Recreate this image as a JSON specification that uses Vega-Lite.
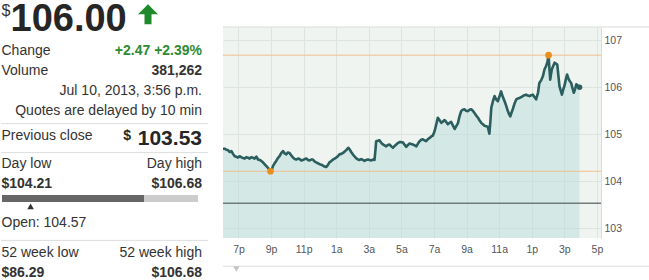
{
  "$schema": "https://vega.github.io/schema/vega-lite/v6.json",
  "padding": 0,
  "spacing": 13,
  "config": {"font": "Liberation Sans", "view": {"stroke": null}, "concat": {"spacing": 13}},
  "datasets": {
    "prices": [
      {"time":"2013-07-09T18:03","price":104.69},{"time":"2013-07-09T18:09","price":104.69},{"time":"2013-07-09T18:15","price":104.67},{"time":"2013-07-09T18:21","price":104.66},{"time":"2013-07-09T18:28","price":104.62},{"time":"2013-07-09T18:34","price":104.64},{"time":"2013-07-09T18:40","price":104.58},{"time":"2013-07-09T18:46","price":104.53},{"time":"2013-07-09T18:52","price":104.52},{"time":"2013-07-09T18:58","price":104.50},
      {"time":"2013-07-09T19:04","price":104.53},{"time":"2013-07-09T19:10","price":104.51},{"time":"2013-07-09T19:17","price":104.49},{"time":"2013-07-09T19:23","price":104.48},{"time":"2013-07-09T19:29","price":104.51},{"time":"2013-07-09T19:35","price":104.50},{"time":"2013-07-09T19:41","price":104.48},{"time":"2013-07-09T19:47","price":104.51},{"time":"2013-07-09T19:53","price":104.50},{"time":"2013-07-09T19:59","price":104.48},
      {"time":"2013-07-09T20:06","price":104.52},{"time":"2013-07-09T20:12","price":104.46},{"time":"2013-07-09T20:18","price":104.45},{"time":"2013-07-09T20:24","price":104.43},{"time":"2013-07-09T20:30","price":104.40},{"time":"2013-07-09T20:36","price":104.36},{"time":"2013-07-09T20:43","price":104.32},{"time":"2013-07-09T20:49","price":104.28},{"time":"2013-07-09T20:54","price":104.24},{"time":"2013-07-09T20:58","price":104.21},
      {"time":"2013-07-09T21:03","price":104.25},{"time":"2013-07-09T21:07","price":104.32},{"time":"2013-07-09T21:13","price":104.38},{"time":"2013-07-09T21:19","price":104.43},{"time":"2013-07-09T21:25","price":104.49},{"time":"2013-07-09T21:31","price":104.53},{"time":"2013-07-09T21:38","price":104.60},{"time":"2013-07-09T21:44","price":104.64},{"time":"2013-07-09T21:50","price":104.59},{"time":"2013-07-09T21:56","price":104.57},
      {"time":"2013-07-09T22:02","price":104.61},{"time":"2013-07-09T22:08","price":104.60},{"time":"2013-07-09T22:14","price":104.55},{"time":"2013-07-09T22:21","price":104.50},{"time":"2013-07-09T22:27","price":104.47},{"time":"2013-07-09T22:33","price":104.46},{"time":"2013-07-09T22:39","price":104.48},{"time":"2013-07-09T22:45","price":104.47},{"time":"2013-07-09T22:51","price":104.44},{"time":"2013-07-09T22:57","price":104.45},
      {"time":"2013-07-09T23:04","price":104.47},{"time":"2013-07-09T23:10","price":104.48},{"time":"2013-07-09T23:16","price":104.45},{"time":"2013-07-09T23:22","price":104.44},{"time":"2013-07-09T23:28","price":104.46},{"time":"2013-07-09T23:34","price":104.46},{"time":"2013-07-09T23:40","price":104.42},{"time":"2013-07-09T23:46","price":104.40},{"time":"2013-07-09T23:53","price":104.38},{"time":"2013-07-09T23:59","price":104.36},
      {"time":"2013-07-10T00:05","price":104.35},{"time":"2013-07-10T00:11","price":104.33},{"time":"2013-07-10T00:17","price":104.31},{"time":"2013-07-10T00:23","price":104.30},{"time":"2013-07-10T00:29","price":104.34},{"time":"2013-07-10T00:35","price":104.40},{"time":"2013-07-10T00:42","price":104.43},{"time":"2013-07-10T00:48","price":104.46},{"time":"2013-07-10T00:54","price":104.48},
      {"time":"2013-07-10T01:00","price":104.50},{"time":"2013-07-10T01:06","price":104.53},{"time":"2013-07-10T01:12","price":104.57},{"time":"2013-07-10T01:19","price":104.58},{"time":"2013-07-10T01:25","price":104.60},{"time":"2013-07-10T01:31","price":104.63},{"time":"2013-07-10T01:37","price":104.66},{"time":"2013-07-10T01:41","price":104.69},{"time":"2013-07-10T01:45","price":104.71},{"time":"2013-07-10T01:50","price":104.67},{"time":"2013-07-10T01:55","price":104.62},
      {"time":"2013-07-10T02:01","price":104.57},{"time":"2013-07-10T02:07","price":104.53},{"time":"2013-07-10T02:13","price":104.49},{"time":"2013-07-10T02:20","price":104.46},{"time":"2013-07-10T02:26","price":104.45},{"time":"2013-07-10T02:32","price":104.47},{"time":"2013-07-10T02:38","price":104.45},{"time":"2013-07-10T02:44","price":104.43},{"time":"2013-07-10T02:50","price":104.45},{"time":"2013-07-10T02:57","price":104.46},
      {"time":"2013-07-10T03:03","price":104.45},{"time":"2013-07-10T03:09","price":104.44},{"time":"2013-07-10T03:15","price":104.46},{"time":"2013-07-10T03:21","price":104.45},{"time":"2013-07-10T03:25","price":104.70},{"time":"2013-07-10T03:27","price":104.85},{"time":"2013-07-10T03:33","price":104.86},{"time":"2013-07-10T03:39","price":104.87},{"time":"2013-07-10T03:45","price":104.82},{"time":"2013-07-10T03:52","price":104.78},{"time":"2013-07-10T03:58","price":104.76},
      {"time":"2013-07-10T04:04","price":104.74},{"time":"2013-07-10T04:10","price":104.77},{"time":"2013-07-10T04:16","price":104.78},{"time":"2013-07-10T04:23","price":104.74},{"time":"2013-07-10T04:29","price":104.71},{"time":"2013-07-10T04:35","price":104.75},{"time":"2013-07-10T04:41","price":104.78},{"time":"2013-07-10T04:47","price":104.81},{"time":"2013-07-10T04:53","price":104.83},
      {"time":"2013-07-10T05:00","price":104.83},{"time":"2013-07-10T05:06","price":104.82},{"time":"2013-07-10T05:12","price":104.77},{"time":"2013-07-10T05:18","price":104.73},{"time":"2013-07-10T05:24","price":104.77},{"time":"2013-07-10T05:30","price":104.80},{"time":"2013-07-10T05:36","price":104.79},{"time":"2013-07-10T05:42","price":104.78},{"time":"2013-07-10T05:49","price":104.76},{"time":"2013-07-10T05:55","price":104.74},
      {"time":"2013-07-10T06:01","price":104.80},{"time":"2013-07-10T06:07","price":104.85},{"time":"2013-07-10T06:13","price":104.88},{"time":"2013-07-10T06:19","price":104.89},{"time":"2013-07-10T06:25","price":104.87},{"time":"2013-07-10T06:31","price":104.85},{"time":"2013-07-10T06:37","price":104.89},{"time":"2013-07-10T06:44","price":104.92},{"time":"2013-07-10T06:50","price":104.95},{"time":"2013-07-10T06:56","price":104.97},
      {"time":"2013-07-10T07:02","price":105.06},{"time":"2013-07-10T07:08","price":105.20},{"time":"2013-07-10T07:14","price":105.35},{"time":"2013-07-10T07:20","price":105.30},{"time":"2013-07-10T07:27","price":105.24},{"time":"2013-07-10T07:33","price":105.27},{"time":"2013-07-10T07:39","price":105.30},{"time":"2013-07-10T07:45","price":105.26},{"time":"2013-07-10T07:51","price":105.21},{"time":"2013-07-10T07:57","price":105.24},
      {"time":"2013-07-10T08:03","price":105.26},{"time":"2013-07-10T08:10","price":105.18},{"time":"2013-07-10T08:16","price":105.11},{"time":"2013-07-10T08:22","price":105.17},{"time":"2013-07-10T08:28","price":105.23},{"time":"2013-07-10T08:34","price":105.38},{"time":"2013-07-10T08:40","price":105.49},{"time":"2013-07-10T08:46","price":105.52},{"time":"2013-07-10T08:52","price":105.53},{"time":"2013-07-10T08:58","price":105.50},
      {"time":"2013-07-10T09:05","price":105.49},{"time":"2013-07-10T09:11","price":105.52},{"time":"2013-07-10T09:17","price":105.53},{"time":"2013-07-10T09:23","price":105.50},{"time":"2013-07-10T09:29","price":105.45},{"time":"2013-07-10T09:35","price":105.40},{"time":"2013-07-10T09:42","price":105.35},{"time":"2013-07-10T09:48","price":105.29},{"time":"2013-07-10T09:54","price":105.24},
      {"time":"2013-07-10T10:00","price":105.21},{"time":"2013-07-10T10:06","price":105.18},{"time":"2013-07-10T10:12","price":105.17},{"time":"2013-07-10T10:18","price":105.16},{"time":"2013-07-10T10:24","price":105.01},{"time":"2013-07-10T10:28","price":105.30},{"time":"2013-07-10T10:31","price":105.56},{"time":"2013-07-10T10:37","price":105.70},{"time":"2013-07-10T10:43","price":105.81},{"time":"2013-07-10T10:49","price":105.74},{"time":"2013-07-10T10:55","price":105.70},
      {"time":"2013-07-10T11:01","price":105.80},{"time":"2013-07-10T11:07","price":105.91},{"time":"2013-07-10T11:13","price":105.80},{"time":"2013-07-10T11:20","price":105.70},{"time":"2013-07-10T11:26","price":105.60},{"time":"2013-07-10T11:32","price":105.49},{"time":"2013-07-10T11:37","price":105.42},{"time":"2013-07-10T11:41","price":105.38},{"time":"2013-07-10T11:45","price":105.45},{"time":"2013-07-10T11:50","price":105.53},{"time":"2013-07-10T11:56","price":105.64},
      {"time":"2013-07-10T12:03","price":105.74},{"time":"2013-07-10T12:09","price":105.76},{"time":"2013-07-10T12:15","price":105.77},{"time":"2013-07-10T12:21","price":105.79},{"time":"2013-07-10T12:27","price":105.81},{"time":"2013-07-10T12:33","price":105.83},{"time":"2013-07-10T12:39","price":105.84},{"time":"2013-07-10T12:45","price":105.82},{"time":"2013-07-10T12:52","price":105.81},{"time":"2013-07-10T12:58","price":105.83},
      {"time":"2013-07-10T13:04","price":105.84},{"time":"2013-07-10T13:10","price":105.79},{"time":"2013-07-10T13:16","price":105.74},{"time":"2013-07-10T13:23","price":105.88},{"time":"2013-07-10T13:28","price":106.09},{"time":"2013-07-10T13:35","price":106.15},{"time":"2013-07-10T13:41","price":106.23},{"time":"2013-07-10T13:47","price":106.38},{"time":"2013-07-10T13:53","price":106.45},{"time":"2013-07-10T13:58","price":106.55},
      {"time":"2013-07-10T14:02","price":106.68},{"time":"2013-07-10T14:05","price":106.40},{"time":"2013-07-10T14:08","price":106.16},{"time":"2013-07-10T14:11","price":106.28},{"time":"2013-07-10T14:14","price":106.38},{"time":"2013-07-10T14:19","price":106.45},{"time":"2013-07-10T14:24","price":106.52},{"time":"2013-07-10T14:29","price":106.50},{"time":"2013-07-10T14:34","price":106.48},{"time":"2013-07-10T14:38","price":106.25},{"time":"2013-07-10T14:42","price":106.02},{"time":"2013-07-10T14:47","price":105.92},{"time":"2013-07-10T14:51","price":105.84},{"time":"2013-07-10T14:56","price":105.95},
      {"time":"2013-07-10T15:00","price":106.02},{"time":"2013-07-10T15:05","price":106.15},{"time":"2013-07-10T15:10","price":106.27},{"time":"2013-07-10T15:14","price":106.20},{"time":"2013-07-10T15:17","price":106.16},{"time":"2013-07-10T15:21","price":106.12},{"time":"2013-07-10T15:25","price":106.09},{"time":"2013-07-10T15:30","price":105.98},{"time":"2013-07-10T15:35","price":105.88},{"time":"2013-07-10T15:40","price":105.97},{"time":"2013-07-10T15:44","price":106.06},{"time":"2013-07-10T15:50","price":106.03},{"time":"2013-07-10T15:56","price":106.00}
    ]
  },
  "hconcat": [
    {
      "width": 207,
      "height": 254,
      "resolve": {"scale": {"x": "independent"}},
      "data": {"values": [
        {"line":0.52,"side":"left","role":"currency","text":"$"},
        {"line":0.0,"side":"left","role":"last","text":"106.00"},
        {"line":2.5,"side":"left","role":"label","text":"Change"},
        {"line":2.5,"side":"right","role":"change","text":"+2.47 +2.39%"},
        {"line":3.5,"side":"left","role":"label","text":"Volume"},
        {"line":3.5,"side":"right","role":"value","text":"381,262"},
        {"line":4.5,"side":"right","role":"label","text":"Jul 10, 2013, 3:56 p.m."},
        {"line":5.5,"side":"right","role":"label","text":"Quotes are delayed by 10 min"},
        {"line":6.75,"side":"left","role":"label","text":"Previous close"},
        {"line":6.75,"side":"right","role":"prevcur","text":"$"},
        {"line":6.92,"side":"right","role":"prevclose","text":"103.53"},
        {"line":8.17,"side":"left","role":"label","text":"Day low"},
        {"line":8.17,"side":"right","role":"label","text":"Day high"},
        {"line":9.13,"side":"left","role":"value","text":"$104.21"},
        {"line":9.13,"side":"right","role":"value","text":"$106.68"},
        {"line":11.08,"side":"left","role":"label","text":"Open: 104.57"},
        {"line":12.58,"side":"left","role":"label","text":"52 week low"},
        {"line":12.58,"side":"right","role":"label","text":"52 week high"},
        {"line":13.58,"side":"left","role":"value","text":"$86.29"},
        {"line":13.58,"side":"right","role":"value","text":"$106.68"}
      ]},
      "layer": [
        {
          "transform": [{"filter": "datum.role == 'currency'"}],
          "mark": {"type": "text", "align": "left", "baseline": "middle", "fontSize": 16, "color": "#333333"},
          "encoding": {
            "x": {"field": "side", "type": "nominal", "scale": {"type": "point", "domain": ["left", "right"], "range": [0.5, 201], "padding": 0}, "axis": null},
            "y": {"field": "line", "type": "quantitative", "scale": {"domain": [1.3, 14], "reverse": true, "zero": false, "nice": false}, "axis": null},
            "text": {"field": "text"}
          }
        },
        {
          "transform": [{"filter": "datum.role == 'last'"}],
          "mark": {"type": "text", "align": "left", "baseline": "top", "fontSize": 38, "fontWeight": "bold", "color": "#262626", "dx": 9},
          "encoding": {
            "x": {"field": "side", "type": "nominal", "scale": {"type": "point", "domain": ["left", "right"], "range": [0.5, 201], "padding": 0}, "axis": null},
            "y": {"field": "line", "type": "quantitative", "axis": null},
            "text": {"field": "text"}
          }
        },
        {
          "transform": [{"filter": "datum.role == 'last'"}],
          "mark": {"type": "point", "filled": true, "opacity": 1, "size": 400, "color": "#1f8a2b", "strokeWidth": 0,
                   "shape": "M14.65,-1L15.65,0L15,0L15,1L14.3,1L14.3,0L13.65,0Z"},
          "encoding": {
            "x": {"field": "side", "type": "nominal", "scale": {"type": "point", "domain": ["left", "right"], "range": [0.5, 201], "padding": 0}, "axis": null},
            "y": {"datum": 0.66, "type": "quantitative", "axis": null}
          }
        },
        {
          "transform": [{"filter": "datum.role == 'label' && datum.side == 'left'"}],
          "mark": {"type": "text", "align": "left", "baseline": "middle", "fontSize": 14, "color": "#333333"},
          "encoding": {
            "x": {"field": "side", "type": "nominal", "scale": {"type": "point", "domain": ["left", "right"], "range": [0.5, 201], "padding": 0}, "axis": null},
            "y": {"field": "line", "type": "quantitative", "axis": null},
            "text": {"field": "text"}
          }
        },
        {
          "transform": [{"filter": "datum.role == 'label' && datum.side == 'right'"}],
          "mark": {"type": "text", "align": "right", "baseline": "middle", "fontSize": 14, "color": "#333333"},
          "encoding": {
            "x": {"field": "side", "type": "nominal", "scale": {"type": "point", "domain": ["left", "right"], "range": [0.5, 201], "padding": 0}, "axis": null},
            "y": {"field": "line", "type": "quantitative", "axis": null},
            "text": {"field": "text"}
          }
        },
        {
          "transform": [{"filter": "datum.role == 'value' && datum.side == 'left'"}],
          "mark": {"type": "text", "align": "left", "baseline": "middle", "fontSize": 14, "fontWeight": "bold", "color": "#333333"},
          "encoding": {
            "x": {"field": "side", "type": "nominal", "scale": {"type": "point", "domain": ["left", "right"], "range": [0.5, 201], "padding": 0}, "axis": null},
            "y": {"field": "line", "type": "quantitative", "axis": null},
            "text": {"field": "text"}
          }
        },
        {
          "transform": [{"filter": "datum.role == 'value' && datum.side == 'right'"}],
          "mark": {"type": "text", "align": "right", "baseline": "middle", "fontSize": 14, "fontWeight": "bold", "color": "#333333"},
          "encoding": {
            "x": {"field": "side", "type": "nominal", "scale": {"type": "point", "domain": ["left", "right"], "range": [0.5, 201], "padding": 0}, "axis": null},
            "y": {"field": "line", "type": "quantitative", "axis": null},
            "text": {"field": "text"}
          }
        },
        {
          "transform": [{"filter": "datum.role == 'change'"}],
          "mark": {"type": "text", "align": "right", "baseline": "middle", "fontSize": 14, "fontWeight": "bold", "color": "#2e8b34"},
          "encoding": {
            "x": {"field": "side", "type": "nominal", "scale": {"type": "point", "domain": ["left", "right"], "range": [0.5, 201], "padding": 0}, "axis": null},
            "y": {"field": "line", "type": "quantitative", "axis": null},
            "text": {"field": "text"}
          }
        },
        {
          "transform": [{"filter": "datum.role == 'prevclose'"}],
          "mark": {"type": "text", "align": "right", "baseline": "middle", "fontSize": 21, "fontWeight": "bold", "color": "#262626"},
          "encoding": {
            "x": {"field": "side", "type": "nominal", "scale": {"type": "point", "domain": ["left", "right"], "range": [0.5, 201], "padding": 0}, "axis": null},
            "y": {"field": "line", "type": "quantitative", "axis": null},
            "text": {"field": "text"}
          }
        },
        {
          "transform": [{"filter": "datum.role == 'prevcur'"}],
          "mark": {"type": "text", "align": "right", "baseline": "middle", "fontSize": 14, "fontWeight": "bold", "color": "#262626", "dx": -71},
          "encoding": {
            "x": {"field": "side", "type": "nominal", "scale": {"type": "point", "domain": ["left", "right"], "range": [0.5, 201], "padding": 0}, "axis": null},
            "y": {"field": "line", "type": "quantitative", "axis": null},
            "text": {"field": "text"}
          }
        },
        {
          "data": {"values": [{"line": 6.13}, {"line": 7.58}, {"line": 11.97}]},
          "mark": {"type": "rule", "color": "#dddddd", "strokeWidth": 1},
          "encoding": {
            "y": {"field": "line", "type": "quantitative", "axis": null}
          }
        },
        {
          "data": {"values": [
            {"segment": "traded", "from": 104.21, "to": 106.00},
            {"segment": "remaining", "from": 106.00, "to": 106.68}
          ]},
          "mark": {"type": "rect"},
          "encoding": {
            "x": {"field": "from", "type": "quantitative", "scale": {"domain": [104.21, 106.68], "range": [1, 197], "zero": false, "nice": false}, "axis": null},
            "x2": {"field": "to"},
            "y": {"datum": 9.7, "type": "quantitative", "axis": null},
            "y2": {"datum": 10.05},
            "color": {"field": "segment", "type": "nominal", "scale": {"domain": ["traded", "remaining"], "range": ["#666666", "#cccccc"]}, "legend": null}
          }
        },
        {
          "data": {"values": [{"open": 104.57}]},
          "mark": {"type": "point", "shape": "triangle-up", "filled": true, "size": 42, "color": "#333333", "opacity": 1},
          "encoding": {
            "x": {"field": "open", "type": "quantitative", "scale": {"domain": [104.21, 106.68], "range": [1, 197], "zero": false, "nice": false}, "axis": null},
            "y": {"datum": 10.27, "type": "quantitative", "axis": null}
          }
        }
      ]
    },
    {
      "width": 378,
      "height": 211,
      "view": {"fill": "#eff4f0", "stroke": null},
      "resolve": {"axis": {"x": "independent", "y": "independent"}},
      "layer": [
        {
          "data": {"name": "prices"},
          "mark": {"type": "area", "color": "#bededc", "opacity": 0.55, "clip": true},
          "encoding": {
            "x": {
              "field": "time", "type": "temporal",
              "scale": {"domain": [{"year": 2013, "month": 7, "date": 9, "hours": 18, "minutes": 3}, {"year": 2013, "month": 7, "date": 10, "hours": 17, "minutes": 15}]},
              "axis": {
                "values": [
                  {"year": 2013, "month": 7, "date": 9, "hours": 19}, {"year": 2013, "month": 7, "date": 9, "hours": 21}, {"year": 2013, "month": 7, "date": 9, "hours": 23},
                  {"year": 2013, "month": 7, "date": 10, "hours": 1}, {"year": 2013, "month": 7, "date": 10, "hours": 3}, {"year": 2013, "month": 7, "date": 10, "hours": 5},
                  {"year": 2013, "month": 7, "date": 10, "hours": 7}, {"year": 2013, "month": 7, "date": 10, "hours": 9}, {"year": 2013, "month": 7, "date": 10, "hours": 11},
                  {"year": 2013, "month": 7, "date": 10, "hours": 13}, {"year": 2013, "month": 7, "date": 10, "hours": 15}, {"year": 2013, "month": 7, "date": 10, "hours": 17}
                ],
                "labelExpr": "(hours(datum.value) % 12 == 0 ? 12 : hours(datum.value) % 12) + (hours(datum.value) < 12 ? 'a' : 'p')",
                "grid": true, "gridColor": "#dde3de", "ticks": false, "domain": false,
                "labelPadding": 6, "labelFontSize": 10.5, "labelColor": "#555555", "labelFlush": false, "labelOverlap": false, "title": null
              }
            },
            "y": {
              "field": "price", "type": "quantitative",
              "scale": {"domain": [102.79, 107.28], "zero": false, "nice": false},
              "axis": {
                "orient": "right", "values": [103, 104, 105, 106, 107],
                "grid": true, "gridColor": "#dde3de", "ticks": false,
                "domain": true, "domainColor": "#d6dcd7",
                "labelPadding": 3, "labelFontSize": 10.5, "labelColor": "#555555", "title": null
              }
            },
            "y2": {"datum": 102.79}
          }
        },
        {
          "data": {"values": [{"reference": "Day high", "level": 106.68}, {"reference": "Day low", "level": 104.21}]},
          "mark": {"type": "rule", "color": "#f0c08e", "strokeWidth": 1},
          "encoding": {"y": {"field": "level", "type": "quantitative", "axis": null}}
        },
        {
          "data": {"values": [{"reference": "Previous close", "level": 103.53}]},
          "mark": {"type": "rule", "color": "#6f7c7a", "strokeWidth": 1.4},
          "encoding": {"y": {"field": "level", "type": "quantitative", "axis": null}}
        },
        {
          "data": {"name": "prices"},
          "mark": {"type": "line", "color": "#2b5e5e", "strokeWidth": 2.6, "strokeJoin": "round", "strokeCap": "round", "clip": true},
          "encoding": {
            "x": {"field": "time", "type": "temporal", "axis": null},
            "y": {"field": "price", "type": "quantitative", "axis": null}
          }
        },
        {
          "data": {"values": [{"reference": "Day high", "time": "2013-07-10T14:02", "price": 106.68}, {"reference": "Day low", "time": "2013-07-09T20:58", "price": 104.21}]},
          "mark": {"type": "circle", "color": "#e8901f", "size": 45, "opacity": 1},
          "encoding": {
            "x": {"field": "time", "type": "temporal", "axis": null},
            "y": {"field": "price", "type": "quantitative", "axis": null}
          }
        },
        {
          "data": {"values": [{"time": "2013-07-10T15:56", "price": 106.00}]},
          "mark": {"type": "circle", "color": "#2b5e5e", "size": 30, "opacity": 1},
          "encoding": {
            "x": {"field": "time", "type": "temporal", "axis": null},
            "y": {"field": "price", "type": "quantitative", "axis": null}
          }
        },
        {
          "data": {"values": [{}]},
          "mark": {"type": "rule", "color": "#d6dcd7", "strokeWidth": 1},
          "encoding": {
            "x": {"datum": {"year": 2013, "month": 7, "date": 9, "hours": 18, "minutes": 3}, "type": "temporal", "axis": null},
            "x2": {"datum": {"year": 2013, "month": 7, "date": 10, "hours": 20, "minutes": 15}},
            "y": {"datum": 107.28, "type": "quantitative", "axis": null}
          }
        },
        {
          "data": {"values": [{}]},
          "mark": {"type": "rule", "color": "#dddddd", "strokeWidth": 1},
          "encoding": {
            "x": {"datum": {"year": 2013, "month": 7, "date": 9, "hours": 18, "minutes": 3}, "type": "temporal", "axis": null},
            "x2": {"datum": {"year": 2013, "month": 7, "date": 10, "hours": 20, "minutes": 15}},
            "y": {"datum": 102.19, "type": "quantitative", "axis": null}
          }
        },
        {
          "data": {"values": [{}]},
          "mark": {"type": "point", "shape": "triangle-down", "filled": true, "size": 40, "color": "#c4c4c4", "opacity": 1},
          "encoding": {
            "x": {"datum": {"year": 2013, "month": 7, "date": 9, "hours": 18, "minutes": 52}, "type": "temporal", "axis": null},
            "y": {"datum": 102.13, "type": "quantitative", "axis": null}
          }
        }
      ]
    }
  ]
}
